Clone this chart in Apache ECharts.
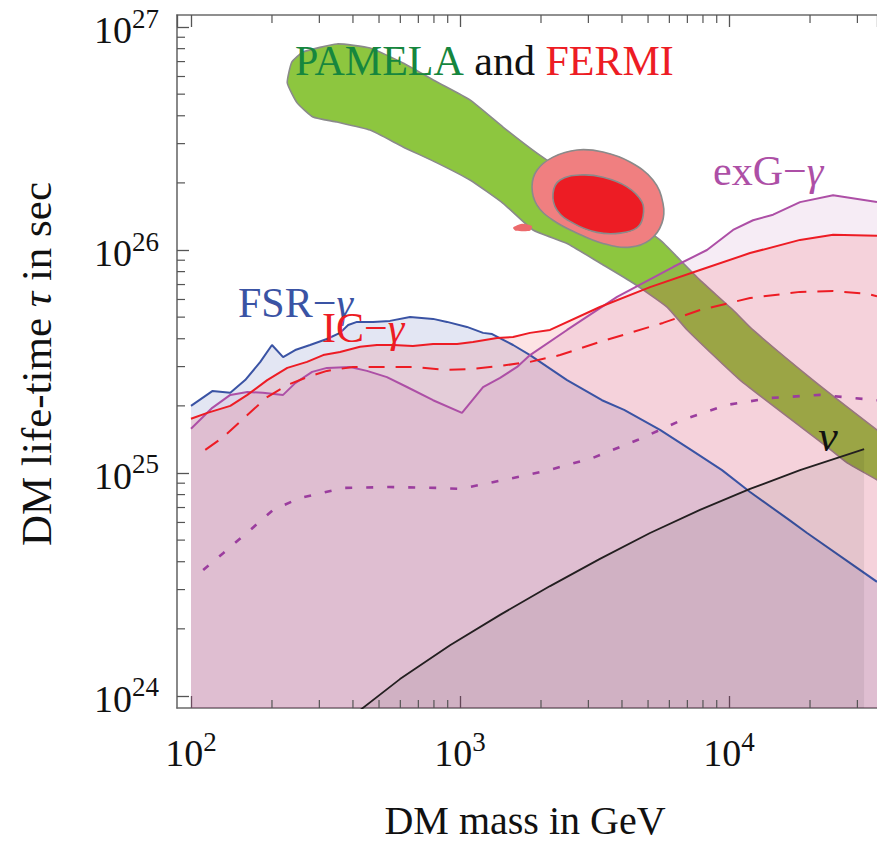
<!DOCTYPE html>
<html><head><meta charset="utf-8">
<script src="https://cdn.jsdelivr.net/npm/echarts@6/dist/echarts.min.js"></script>
<style>html,body{margin:0;padding:0;background:#fff}#c{width:877px;height:842px}</style>
</head><body><div id="c"></div>
<script>
// ---- data (mass in GeV, lifetime in s) ----
const fsrMass = [100,120,140,159,181,200,220,244,277,320,358,384,414,475,549,652,794,895,1061,1218,1316,1575,1821,2500,3371,4074,5540,7223,9417,11970,16720,19500,35480];
const fsrTau  = [2.00e25,2.33e25,2.29e25,2.61e25,3.15e25,3.75e25,3.31e25,3.56e25,3.75e25,3.99e25,4.25e25,4.61e25,4.76e25,4.76e25,4.81e25,5.01e25,4.91e25,4.76e25,4.52e25,4.25e25,4.20e25,3.75e25,3.38e25,2.61e25,2.12e25,1.92e25,1.56e25,1.27e25,1.03e25,8.22e24,6.16e24,5.38e24,3.25e24];

const icMass = [100,115,140,162,192,228,270,310,358,425,491,564,668,794,975,1117,1373,1575,1821,2161,3312,5085,7799,11970,18360,24370,35480];
const icTau  = [1.75e25,1.86e25,2.00e25,2.24e25,2.61e25,2.96e25,3.15e25,3.38e25,3.49e25,3.68e25,3.75e25,3.75e25,3.71e25,3.79e25,3.79e25,3.87e25,4.03e25,4.07e25,4.25e25,4.38e25,5.55e25,6.82e25,8.13e25,9.69e25,1.11e26,1.17e26,1.16e26];

const icDashMass = [113,132,162,192,228,270,320,400,504,668,895,1117,1409,1821,2355,3312,5683,7799,11970,18360,24370,32600,35480];
const icDashTau  = [1.27e25,1.45e25,1.82e25,2.19e25,2.48e25,2.69e25,2.87e25,2.99e25,2.99e25,2.99e25,2.90e25,2.93e25,3.02e25,3.15e25,3.38e25,3.87e25,4.71e25,5.38e25,6.09e25,6.49e25,6.55e25,6.36e25,6.20e25];

const exgMass = [100,120,140,162,185,220,244,282,320,390,451,535,635,794,1017,1218,1409,1630,1821,2500,3835,6192,8280,10350,12280,14580,18360,24370,35480];
const exgTau  = [1.58e25,1.96e25,2.24e25,2.31e25,2.29e25,2.24e25,2.53e25,2.84e25,2.96e25,2.99e25,2.87e25,2.69e25,2.43e25,2.12e25,1.86e25,2.43e25,2.67e25,2.99e25,3.38e25,4.38e25,6.16e25,8.39e25,1.00e26,1.23e26,1.36e26,1.44e26,1.64e26,1.76e26,1.64e26];

const exgDotMass = [111,132,166,202,254,370,545,829,1000,1459,2142,3121,4590,6687,9835,14320,21790,35480];
const exgDotTau  = [3.67e24,4.38e24,5.55e24,6.83e24,7.72e24,8.57e24,8.65e24,8.57e24,8.48e24,9.31e24,1.03e25,1.17e25,1.41e25,1.73e25,2.02e25,2.17e25,2.24e25,2.12e25];

const nuMass = [397,598,918,1409,2161,3312,5085,7799,11970,18360,31770];
const nuTau  = [8.1e23,1.19e24,1.69e24,2.31e24,3.11e24,4.12e24,5.38e24,6.83e24,8.48e24,1.03e25,1.28e25];

// PAMELA region outline
const pamelaMass = [228,237,261,349,463,614,821,1089,1445,1932,3312,5540,6582,7799,10350,12280,20520,35480,43250,
                    43250,35480,27480,23130,10990,6988,5883,4399,3312,2500,1868,1445,1089,821,614,463,349,284,248];
const pamelaTau  = [5.61e26,6.97e26,7.73e26,8.40e26,8.05e26,6.90e26,5.67e26,4.71e26,3.56e26,2.72e26,1.73e26,1.11e26,9.02e25,7.33e25,5.38e25,4.38e25,2.61e25,1.56e25,1.31e25,
                    7.80e24,9.31e24,1.11e25,1.31e25,2.61e25,4.38e25,5.55e25,7.11e25,8.74e25,1.07e26,1.23e26,1.62e26,2.06e26,2.46e26,2.90e26,3.45e26,3.75e26,3.95e26,4.57e26];

// FERMI regions
const fermiOuterMass = [1852,1932,2217,2724,3401,4287,5215,5683,5630,5085,4287,3401,2724,2217,1932];
const fermiOuterTau  = [1.92e26,2.28e26,2.61e26,2.81e26,2.75e26,2.48e26,2.06e26,1.62e26,1.32e26,1.11e26,1.03e26,1.07e26,1.19e26,1.36e26,1.59e26];
const fermiInnerMass = [2217,2355,2795,3401,4178,4750,4787,4553,3936,3230,2633,2294];
const fermiInnerTau  = [1.80e26,2.06e26,2.17e26,2.12e26,1.92e26,1.64e26,1.41e26,1.26e26,1.19e26,1.20e26,1.32e26,1.51e26];
const fermiSpotMass = [1575,1698,1852,1821,1614];
const fermiSpotTau  = [1.26e26,1.31e26,1.28e26,1.22e26,1.22e26];

// axis ticks
const xMinor = [200,300,400,500,600,700,800,900,2000,3000,4000,5000,6000,7000,8000,9000,20000,30000];
const yMinor = [2e24,3e24,4e24,5e24,6e24,7e24,8e24,9e24,2e25,3e25,4e25,5e25,6e25,7e25,8e25,9e25,2e26,3e26,4e26,5e26,6e26,7e26,8e26,9e26];

// ---- layout ----
const X_MIN = Math.pow(10, 1.948), X_MAX = Math.pow(10, 4.550);
const Y_MIN = Math.pow(10, 23.946), Y_MAX = Math.pow(10, 27.054);
const FONT = "'Liberation Serif','Times New Roman',serif";
const AXC = '#6b6b6b';
const zip = (a, b) => a.map((v, i) => [v, b[i]]);

function polySeries(mass, tau, fill, stroke, z, smooth) {
  return {
    type: 'custom', silent: true, z: z, clip: true,
    data: zip(mass, tau),
    renderItem: (params, api) => {
      if (params.dataIndex !== 0) return null;
      const pts = mass.map((m, i) => api.coord([m, tau[i]]));
      return { type: 'polygon', shape: { points: pts, smooth: smooth },
               style: { fill: fill, stroke: stroke, lineWidth: stroke ? 1.6 : 0 } };
    }
  };
}
function minorTicks(values, axis) {
  return {
    type: 'custom', silent: true, z: 6, clip: false,
    data: values.map(v => axis === 'x' ? [v, Y_MIN] : [X_MIN, v]),
    renderItem: (params, api) => {
      const st = { stroke: '#555', lineWidth: 1.2 };
      if (axis === 'x') {
        const b = api.coord([api.value(0), Y_MIN]);
        const t = api.coord([api.value(0), Y_MAX]);
        return { type: 'group', children: [
          { type: 'line', shape: { x1: b[0], y1: b[1], x2: b[0], y2: b[1] - 8 }, style: st },
          { type: 'line', shape: { x1: t[0], y1: t[1], x2: t[0], y2: t[1] + 8 }, style: st } ] };
      }
      const p = api.coord([X_MIN, api.value(1)]);
      return { type: 'line', shape: { x1: p[0], y1: p[1], x2: p[0] + 8, y2: p[1] }, style: st };
    }
  };
}
function curve(mass, tau, color, width, type, area, z) {
  const s = { type: 'line', data: zip(mass, tau), symbol: 'none', z: z || 3, silent: true,
    lineStyle: { color: color, width: width, type: type || 'solid' } };
  if (area) s.areaStyle = { color: area, origin: 'start', opacity: 1 };
  return s;
}
const expFmt = v => { const e = Math.log10(v); const r = Math.round(e); return Math.abs(e - r) < 1e-4 ? '{b|10}{s|' + r + '}' : ''; };
const labRich = {
  b: { fontFamily: FONT, fontSize: 38, color: '#111', lineHeight: 44, verticalAlign: 'bottom' },
  s: { fontFamily: FONT, fontSize: 27, color: '#111', lineHeight: 27, verticalAlign: 'top' }
};

const chart = echarts.init(document.getElementById('c'), null, { renderer: 'svg' });
chart.setOption({
  animation: false,
  backgroundColor: '#fff',
  grid: { left: 177, top: 15, right: 0, bottom: 134, containLabel: false },
  xAxis: [
    { type: 'log', logBase: 10, min: X_MIN, max: X_MAX, position: 'bottom',
      axisLine: { show: true, lineStyle: { color: AXC, width: 1.6 } },
      axisTick: { show: true, inside: true, length: 12, lineStyle: { color: '#555', width: 1.3 } },
      axisLabel: { formatter: expFmt, rich: labRich, margin: 20, showMinLabel: false, showMaxLabel: false },
      splitLine: { show: false }, minorTick: { show: false } },
    { type: 'log', logBase: 10, min: X_MIN, max: X_MAX, position: 'top',
      axisLine: { show: true, lineStyle: { color: AXC, width: 1.6 } },
      axisTick: { show: true, inside: true, length: 12, lineStyle: { color: '#555', width: 1.3 } },
      axisLabel: { show: false }, splitLine: { show: false } }
  ],
  yAxis: { type: 'log', logBase: 10, min: Y_MIN, max: Y_MAX,
    axisLine: { show: true, lineStyle: { color: AXC, width: 1.6 } },
    axisTick: { show: true, inside: true, length: 12, lineStyle: { color: '#555', width: 1.3 } },
    axisLabel: { formatter: expFmt, rich: labRich, margin: 18, showMinLabel: false, showMaxLabel: false },
    splitLine: { show: false } },
  series: [
    polySeries(pamelaMass, pamelaTau, '#8dc63f', '#8a8a8a', 1, 0.15),
    curve(fsrMass, fsrTau, '#3a53a4', 2, 'solid', 'rgba(60,80,170,0.14)', 2),
    curve(exgMass, exgTau, '#ad4fa6', 2, 'solid', 'rgba(173,79,166,0.11)', 2),
    curve(icMass, icTau, '#ed1c24', 2, 'solid', 'rgba(237,28,36,0.12)', 2),
    curve(nuMass, nuTau, '#231f20', 1.8, 'solid', 'rgba(0,0,0,0.065)', 3),
    curve(icDashMass, icDashTau, '#ed1c24', 2, [16, 11], null, 3),
    curve(exgDotMass, exgDotTau, '#9b3d9e', 2.6, [7, 14], null, 3),
    polySeries(fermiOuterMass, fermiOuterTau, '#f07f80', '#8a8a8a', 4, 0.4),
    polySeries(fermiInnerMass, fermiInnerTau, '#ed1c24', '#8a8a8a', 5, 0.4),
    polySeries(fermiSpotMass, fermiSpotTau, '#ec6a6c', null, 5, 0.2),
    minorTicks(xMinor, 'x'),
    minorTicks(yMinor, 'y')
  ],
  graphic: [
    { type: 'text', x: 295, y: 61, z: 100, style: {
        text: '{g|PAMELA }{k|and }{r|FERMI}', verticalAlign: 'middle', align: 'left',
        rich: { g: { fontFamily: FONT, fontSize: 42, fill: '#16863e', color: '#16863e' },
                k: { fontFamily: FONT, fontSize: 42, fill: '#111', color: '#111' },
                r: { fontFamily: FONT, fontSize: 42, fill: '#ed1c24', color: '#ed1c24' } } } },
    { type: 'text', x: 238, y: 303, z: 100, style: {
        text: '{a|FSR−}{g|γ}', verticalAlign: 'middle', align: 'left',
        rich: { a: { fontFamily: FONT, fontSize: 42, fill: '#3a53a4' },
                g: { fontFamily: FONT, fontSize: 42, fontStyle: 'italic', fill: '#3a53a4' } } } },
    { type: 'text', x: 322, y: 328, z: 100, style: {
        text: '{a|IC−}{g|γ}', verticalAlign: 'middle', align: 'left',
        rich: { a: { fontFamily: FONT, fontSize: 42, fill: '#ed1c24' },
                g: { fontFamily: FONT, fontSize: 42, fontStyle: 'italic', fill: '#ed1c24' } } } },
    { type: 'text', x: 713, y: 171, z: 100, style: {
        text: '{a|exG−}{g|γ}', verticalAlign: 'middle', align: 'left',
        rich: { a: { fontFamily: FONT, fontSize: 42, fill: '#ad4fa6' },
                g: { fontFamily: FONT, fontSize: 42, fontStyle: 'italic', fill: '#ad4fa6' } } } },
    { type: 'text', x: 828, y: 436, z: 100, style: {
        text: 'ν', font: 'italic 44px ' + FONT, fill: '#111', align: 'center', verticalAlign: 'middle' } },
    { type: 'text', x: 525, y: 820, z: 100, style: {
        text: 'DM mass in GeV', font: '40px ' + FONT, fill: '#111', align: 'center', verticalAlign: 'middle' } },
    { type: 'text', x: 36, y: 364, rotation: Math.PI / 2, z: 100, style: {
        text: '{a|DM life-time }{t|τ}{a| in sec}', align: 'center', verticalAlign: 'middle',
        rich: { a: { fontFamily: FONT, fontSize: 43, fill: '#111' },
                t: { fontFamily: FONT, fontSize: 43, fontStyle: 'italic', fill: '#111' } } } }
  ]
});
</script>
</body></html>
